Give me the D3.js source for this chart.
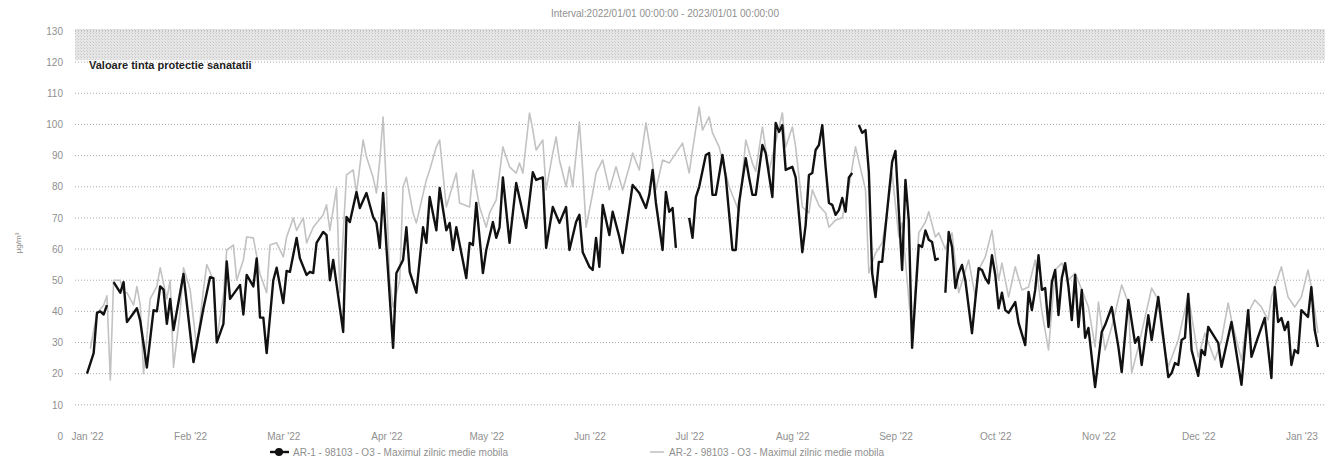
<!DOCTYPE html>
<html><head><meta charset="utf-8">
<script src="https://cdn.jsdelivr.net/npm/d3@7"></script>
<style>body{margin:0;background:#fff;} svg{display:block;font-family:"Liberation Sans",Arial,sans-serif;}</style>
</head><body>
<svg id="chart" width="1330" height="463"></svg>
<script>
const titleText = "Interval:2022/01/01 00:00:00 - 2023/01/01 00:00:00";
const yTitle = "µg/m³";
const bandLabel = "Valoare tinta protectie sanatatii";
const bandRange = [120, 130];
const yTicks = [0,10,20,30,40,50,60,70,80,90,100,110,120,130];
const seriesNames = ["AR-1 - 98103 - O3 - Maximul zilnic medie mobila", "AR-2 - 98103 - O3 - Maximul zilnic medie mobila"];
const startDate = new Date(2022, 0, 1);
const endDay = 370;

// AR-1 (black) : day offset from 2022-01-01, value
const ar1Day = [0,2,3,4,5,6,7,8,10,11,12,13,14,15,16,18,20,21,22,23,24,25,26,29,32,35,37,38,39,41,42,43,46,47,48,50,51,52,53,54,56,57,59,60,61,63,64,66,67,68,69,71,72,73,74,77,78,79,81,82,84,86,87,88,89,90,92,93,95,96,97,99,101,102,103,105,106,108,109,110,111,114,115,116,117,119,120,122,123,124,125,127,129,132,134,135,137,138,140,142,144,145,147,148,149,151,152,153,154,155,157,158,160,161,164,166,168,169,170,171,173,174,175,176,177,179,181,182,183,184,186,187,188,189,191,192,194,195,196,198,199,200,201,203,204,206,207,208,209,210,212,213,215,216,217,218,219,220,221,222,223,224,225,226,227,228,229,230,231,232,233,234,235,236,237,238,239,240,242,243,245,246,247,248,250,251,252,253,254,255,256,257,258,259,260,261,262,263,264,266,267,268,269,270,271,272,273,274,275,276,277,279,280,282,283,284,285,286,287,288,289,290,291,292,293,294,295,296,297,298,299,300,301,303,305,306,308,310,311,313,315,316,317,319,320,322,325,326,327,328,329,330,331,332,334,335,336,337,340,341,344,347,349,350,352,354,356,357,358,359,360,361,362,363,364,365,367,368,369,370];
const ar1Val = [20,26.6,39.5,40,39,42,null,49.4,46,49.4,36.6,38,39.5,41,37,22,40.4,40,48,47,36,44,34,52,23.7,41,51,50.7,30,36,56,44,48.5,39,51.7,48,57,38,38,26.6,50,54,42.7,53,52.7,63.6,57,51.7,52.7,52.3,62,65.5,64.5,50,56.5,33.4,70.3,68.7,78.3,73.2,78,70.3,68.4,60.4,78,60.7,28.3,52.3,56.5,67,52.7,46,67,62,76.7,66,79.6,66,68.4,59.7,67,50.7,62,61.3,74.8,52.3,59.7,68.7,63.6,67,83,62,81.2,66.8,84.7,82.2,83,60.4,73.5,68.4,73.5,59.7,68.7,71,59,54.3,53.3,63.6,54.3,74.2,64.5,72,63.9,58.7,80.6,78,73.2,77.4,85.4,74.8,59.7,78.3,72,73.2,60.4,null,70,63.6,76.7,80,90.2,90.8,77.4,77.4,90.2,83,59.7,59.7,75,89.2,83,77.4,77.4,93.4,90.8,76.7,100.5,97.6,99.8,85.4,86.4,83,59,67.7,83.8,84.4,91.8,93.4,99.8,86.4,74.8,74.2,71,72.5,76.4,72,83,84.4,null,99.8,97.3,98.2,84.7,52.3,44.6,55.9,55.9,67,88,91.5,53.3,82.2,69.3,28.3,61.3,60.7,66,63,62.3,56.5,57,null,46,65.5,60.7,47.5,52.3,54.9,50,33,43.7,53.9,53.3,50.7,49,58,51.7,41,46,40.4,39.5,43,36.3,29.2,46.2,40.4,46.9,58,46.9,47.5,35,49.4,53.3,38.8,50.7,55.5,47.8,37.2,51.7,35,46.9,31.5,34.7,15.7,33.4,35.6,41.4,28.6,20.5,43.7,29.9,31.8,22.8,38.8,30.8,44.6,18.9,20.2,23.4,22.8,30.8,31.5,45.6,27.6,19.3,27.6,26,35,29.9,22.2,36.6,16.4,40.4,25.4,31.8,37.9,18.6,47.8,36.6,37.9,34,36.6,22.8,27.6,26.6,40.4,38.2,47.8,34,28.6];

// AR-2 (grey)
const ar2Day = [1,3,5,6,7,8,10,11,12,14,15,16,17,19,21,22,24,25,26,28,29,31,33,35,36,38,39,41,42,44,45,47,48,50,52,54,55,57,59,60,62,63,65,66,68,71,72,73,75,76,78,80,81,83,84,86,87,88,89,90,91,92,94,95,96,98,99,102,103,105,106,108,111,112,115,116,118,120,121,123,125,127,129,130,131,133,134,135,137,138,140,141,142,144,145,146,148,149,150,152,153,155,157,159,161,163,164,166,168,170,171,173,175,179,181,182,184,185,187,188,190,193,196,198,200,201,203,205,209,210,212,213,215,217,218,220,222,223,225,227,229,231,234,235,237,239,240,242,244,245,248,250,252,253,255,256,258,260,262,265,267,268,270,272,274,275,277,279,281,283,285,287,289,291,293,295,297,299,301,303,304,306,308,311,313,314,316,320,322,323,325,328,331,334,336,339,341,343,344,347,349,351,353,355,356,359,361,363,365,367,368,370];
const ar2Val = [28,39.5,42,45,18,50,50,46,46,42,48,42,20,44,48,54,44,50,22,40,54,47,28,47,55,50,31,45,59.7,61.3,50,56.5,63.9,63.6,52,46,61.3,62,57.5,63.9,70,66,70,62,67,71,74.2,66,79.6,46,83.8,85.4,78,95,89.6,83,78,88.6,102.4,79,50,41.4,50,80,83,71.6,68.4,82.2,85.4,92.8,95,73.5,84.4,74.8,73.5,85.4,73.5,67,71.6,75.8,92.8,86.4,84.4,87.6,84.4,103.7,98.2,91.8,95,79,90.8,96,88.6,80,86.4,80,100.8,85.4,67,78,84.4,88.6,79,86.4,79,86.4,90.8,85.4,100.5,87.6,79,88.6,87.6,94,84.4,91.8,105.6,98.2,102.4,97.3,92.8,80,72,95,87.6,85,99.2,85,103.7,92.8,99.2,92.8,73.5,71.6,79,74,71.6,67,69.3,70,80,92.8,79,52.3,58.7,62,68.4,84.4,63.9,68.4,31.8,65.2,68.7,72,63.9,65.2,60,65.2,46,56.5,44.6,53.3,57.5,66,50,55.5,44.6,54.3,46.9,47.8,56.5,40,27.6,53.3,55.5,50,52.3,46.9,41.4,28.6,43,27.6,35,48.5,42.7,20.2,28.6,47.5,43.7,33,22.2,30.8,45.3,25.4,33,24.4,30.8,42.7,37.2,24.4,39.5,43.7,41.4,37.2,44.6,54.3,44.6,41.4,44.6,53.3,47.8,33];

const svg = d3.select("#chart");
const dayDate = d => d3.timeDay.offset(startDate, d);

const x = d3.scaleTime().domain([startDate, dayDate(endDay)]).range([87, 1318]);
const y = d3.scaleLinear().domain([0, 130]).range([436, 31]);
const plotLeft = 75, plotRight = 1325;

// halftone pattern for target band
const defs = svg.append("defs");
const pat = defs.append("pattern").attr("id","dots").attr("width",3).attr("height",3).attr("patternUnits","userSpaceOnUse");
pat.append("rect").attr("width",3).attr("height",3).attr("fill","#e6e6e6");
pat.append("rect").attr("width",1).attr("height",1).attr("fill","#c6c6c6");
pat.append("rect").attr("x",2).attr("y",2).attr("width",1).attr("height",1).attr("fill","#d4d4d4");

svg.append("rect")
  .attr("x", plotLeft).attr("width", plotRight - plotLeft)
  .attr("y", y(bandRange[1]) - 2).attr("height", y(bandRange[0]) - y(bandRange[1]))
  .attr("fill", "url(#dots)");

// grid
svg.append("g").selectAll("line").data(yTicks.filter(t => t > 0)).join("line")
  .attr("x1", plotLeft).attr("x2", plotRight)
  .attr("y1", d => y(d)).attr("y2", d => y(d))
  .attr("stroke", "#aaa").attr("stroke-width", 1).attr("stroke-dasharray", "1,2");

// y axis
const yAxis = svg.append("g").attr("transform", "translate(63,0)")
  .call(d3.axisLeft(y).tickValues(yTicks).tickSize(0).tickPadding(0));
yAxis.select(".domain").remove();
yAxis.selectAll("text").attr("fill", "#8f8f8f").attr("font-size", 10);

svg.append("text").attr("transform", "translate(21,243) rotate(-90)")
  .attr("text-anchor", "middle").attr("font-size", 8).attr("fill", "#888").text(yTitle);

// x axis
const xAxis = svg.append("g").attr("transform", "translate(0,433)")
  .call(d3.axisBottom(x).ticks(d3.timeMonth.every(1)).tickFormat(d3.timeFormat("%b '%y")).tickSize(0).tickPadding(0));
xAxis.select(".domain").remove();
xAxis.selectAll("text").attr("fill", "#8f8f8f").attr("font-size", 10);

// title
svg.append("text").attr("x", 665).attr("y", 17).attr("text-anchor", "middle")
  .attr("font-size", 10).attr("fill", "#8f8f8f").text(titleText);

// band label
svg.append("text").attr("x", 89).attr("y", y(bandRange[0]) + 7)
  .attr("font-size", 11).attr("font-weight", "bold").attr("fill", "#222").text(bandLabel);

const line = d3.line().defined(d => d.v !== null).x(d => x(dayDate(d.d))).y(d => y(d.v)).curve(d3.curveLinear);
const s1 = ar1Day.map((d, i) => ({d, v: ar1Val[i]}));
const s2 = ar2Day.map((d, i) => ({d, v: ar2Val[i]}));

svg.append("path").datum(s2).attr("d", line).attr("fill", "none")
  .attr("stroke", "#c2c2c2").attr("stroke-width", 1.6).attr("stroke-linejoin", "round");
svg.append("path").datum(s1).attr("d", line).attr("fill", "none")
  .attr("stroke", "#111").attr("stroke-width", 2.4).attr("stroke-linejoin", "round");

// legend
const lg = svg.append("g");
lg.append("line").attr("x1", 270).attr("x2", 289).attr("y1", 452).attr("y2", 452).attr("stroke", "#111").attr("stroke-width", 2.4);
lg.append("circle").attr("cx", 279).attr("cy", 452).attr("r", 4).attr("fill", "#111");
lg.append("text").attr("x", 293).attr("y", 456).attr("font-size", 10).attr("fill", "#8f8f8f").text(seriesNames[0]);
lg.append("line").attr("x1", 650).attr("x2", 664).attr("y1", 452).attr("y2", 452).attr("stroke", "#c2c2c2").attr("stroke-width", 1.6);
lg.append("text").attr("x", 669).attr("y", 456).attr("font-size", 10).attr("fill", "#8f8f8f").text(seriesNames[1]);
</script>
</body></html>
